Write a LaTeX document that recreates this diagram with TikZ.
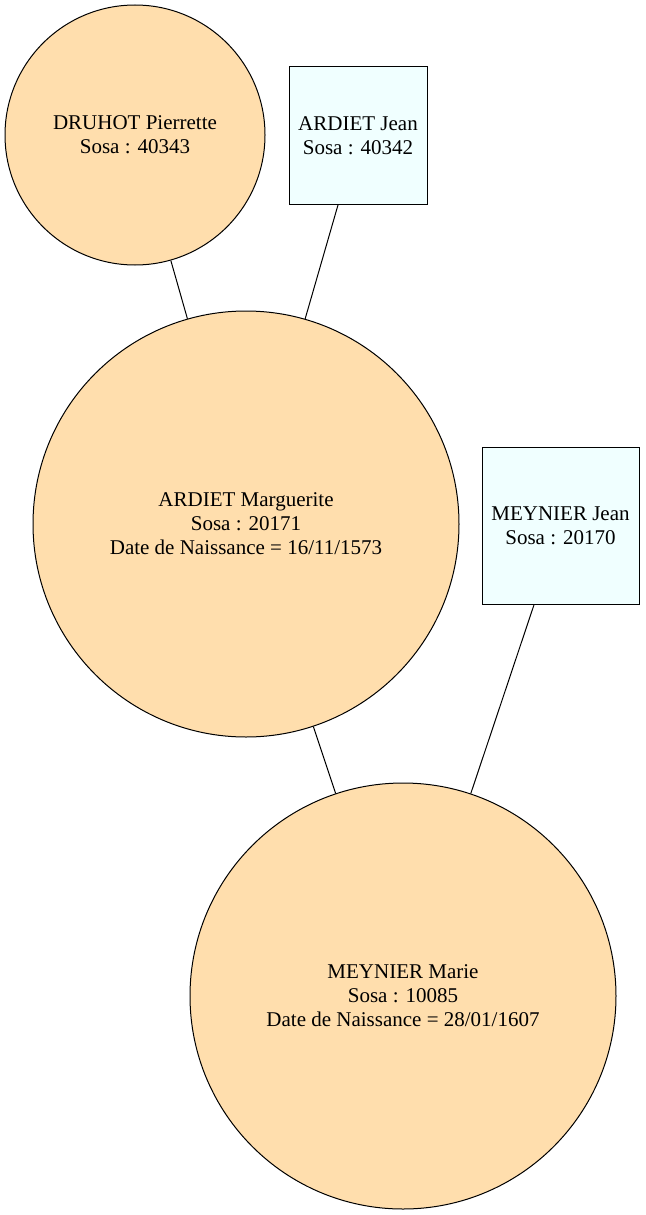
\documentclass[tikz,border=0pt]{standalone}
\usepackage{fontspec}
\setmainfont{Liberation Serif}
\definecolor{navajo}{HTML}{FFDEAD}
\definecolor{azurec}{HTML}{F0FFFF}
\begin{document}
\begin{tikzpicture}[x=1pt,y=-1pt,
  person/.style={circle,draw=black,fill=navajo,line width=1pt,inner sep=0pt,align=center,font=\fontsize{21}{24}\selectfont},
  father/.style={rectangle,draw=black,fill=azurec,line width=1pt,inner sep=0pt,align=center,font=\fontsize{21}{24}\selectfont},
  link/.style={draw=black,line width=1pt}]
\useasboundingbox (0,0) rectangle (645,1215);
\node[person,minimum size=260pt] (druhot) at (135,135) {DRUHOT Pierrette\\Sosa : 40343};
\node[father,minimum width=138pt,minimum height=137pt] (ajean) at (358,135.5) {ARDIET Jean\\Sosa : 40342};
\node[person,minimum size=426pt] (marg) at (246,524) {ARDIET Marguerite\\Sosa : 20171\\Date de Naissance = 16/11/1573};
\node[father,minimum width=157pt,minimum height=157pt] (mjean) at (560.5,525.5) {MEYNIER Jean\\Sosa : 20170};
\node[person,minimum size=426pt] (marie) at (403,996) {MEYNIER Marie\\Sosa : 10085\\Date de Naissance = 28/01/1607};
\draw[link] (druhot) -- (marg);
\draw[link] (ajean) -- (marg);
\draw[link] (marg) -- (marie);
\draw[link] (mjean) -- (marie);
\end{tikzpicture}
\end{document}
